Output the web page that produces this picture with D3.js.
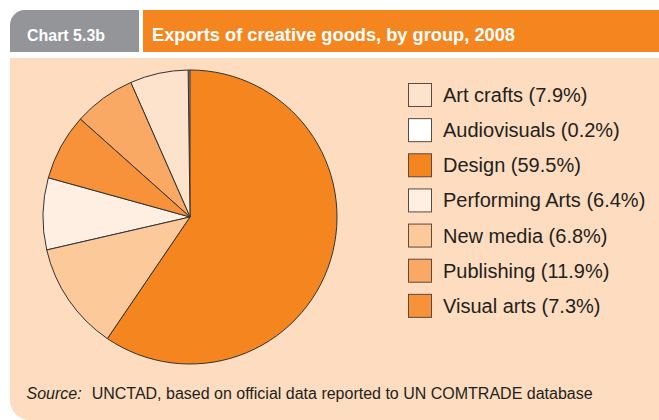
<!DOCTYPE html>
<html>
<head>
<meta charset="utf-8">
<script src="https://cdn.jsdelivr.net/npm/d3@7"></script>
<style>
  html, body { margin: 0; padding: 0; background: #ffffff; }
  svg { display: block; }
</style>
</head>
<body>
<svg id="chart" width="659" height="420"></svg>
<script>
// ---- data ----
const chartLabel = "Chart 5.3b";
const chartTitle = "Exports of creative goods, by group, 2008";
const categories = ["Art crafts", "Audiovisuals", "Design", "Performing Arts", "New media", "Publishing", "Visual arts"];
const shares = [7.9, 0.2, 59.5, 6.4, 6.8, 11.9, 7.3];
const legendColors = ["#fde3cc", "#ffffff", "#f5861f", "#feefe2", "#fcc99b", "#f9a963", "#f7923a"];
// slice colours as they appear in the pie (by category)
const sliceColors = ["#feefe2", "#ffffff", "#f5861f", "#fde3cc", "#f9a963", "#fcc99b", "#f7923a"];
const sourceLabel = "Source:";
const sourceText = "UNCTAD, based on official data reported to UN COMTRADE database";

// ---- drawing ----
const svg = d3.select("#chart");
const W = 659, H = 420;

// body background
const bx = 10, by = 58, br = 20;
svg.append("path")
  .attr("d", `M${bx},${by} H${W} V${H} H${bx + br} A${br},${br} 0 0 1 ${bx},${H - br} Z`)
  .attr("fill", "#fddcbf");

// header: grey tab + orange title bar
const hy = 10, hh = 42, hr = 15;
svg.append("path")
  .attr("d", `M${bx},${hy + hh} V${hy + hr} A${hr},${hr} 0 0 1 ${bx + hr},${hy} H139 V${hy + hh} Z`)
  .attr("fill", "#939598");
svg.append("rect").attr("x", 143).attr("y", hy).attr("width", W - 143).attr("height", hh)
  .attr("fill", "#f5861f");

svg.append("text").attr("x", 27).attr("y", 41)
  .attr("font-family", "'Liberation Sans', Arial, sans-serif")
  .attr("font-weight", "bold").attr("font-size", 17).attr("fill", "#ffffff")
  .attr("textLength", 78).attr("lengthAdjust", "spacingAndGlyphs")
  .text(chartLabel);
svg.append("text").attr("x", 152).attr("y", 41)
  .attr("font-family", "'Liberation Sans', Arial, sans-serif")
  .attr("font-weight", "bold").attr("font-size", 18).attr("fill", "#ffffff")
  .attr("textLength", 363).attr("lengthAdjust", "spacingAndGlyphs")
  .text(chartTitle);

// pie
const cx = 190, cy = 217, R = 147;
const data = categories.map((c, i) => ({ cat: c, value: shares[i], sliceColor: sliceColors[i] }));
const pie = d3.pie().value(d => d.value).sort((a, b) => b.value - a.value);
const arc = d3.arc().innerRadius(0).outerRadius(R);
svg.append("g").attr("transform", `translate(${cx},${cy})`)
  .selectAll("path").data(pie(data)).join("path")
  .attr("d", arc)
  .attr("fill", d => d.data.sliceColor)
  .attr("stroke", "#333333").attr("stroke-width", 1).attr("stroke-linejoin", "round");

// legend
const legendY = d3.scaleBand().domain(categories).range([83, 329]).paddingInner(0);
const lg = svg.append("g");
categories.forEach((c, i) => {
  const y = legendY(c);
  lg.append("rect").attr("x", 408.5).attr("y", y + 0.5).attr("width", 23).attr("height", 23)
    .attr("fill", legendColors[i]).attr("stroke", "#5a4a40").attr("stroke-width", 1);
  lg.append("text").attr("x", 443).attr("y", y + 19)
    .attr("font-family", "'Liberation Sans', Arial, sans-serif")
    .attr("font-size", 20).attr("fill", "#231f20")
    .text(`${c} (${shares[i].toFixed(1)}%)`);
});

// source
const st = svg.append("text").attr("x", 26.5).attr("y", 399)
  .attr("font-family", "'Liberation Sans', Arial, sans-serif")
  .attr("font-size", 16).attr("fill", "#231f20");
st.append("tspan").attr("font-style", "italic").text(sourceLabel);
st.append("tspan").attr("dx", 10).text(sourceText);
</script>
</body>
</html>
